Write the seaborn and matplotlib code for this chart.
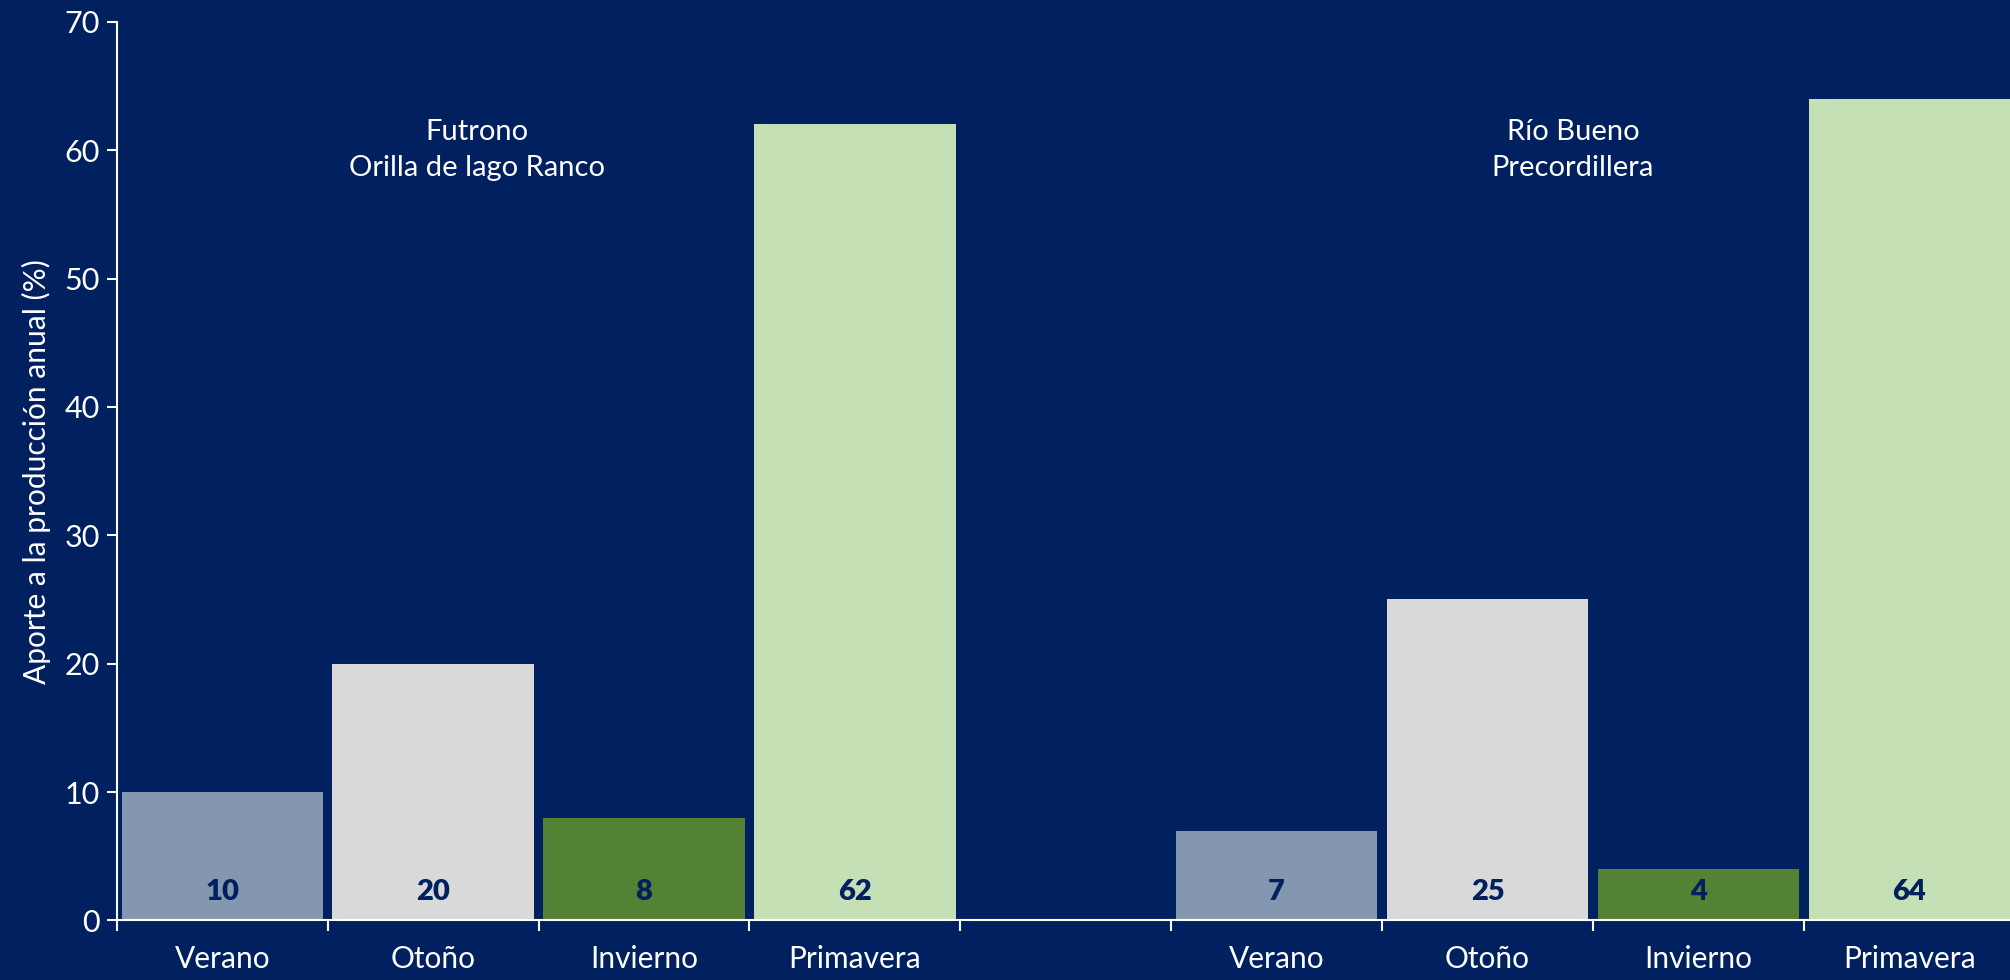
import matplotlib
matplotlib.use("Agg")
import matplotlib.pyplot as plt
import seaborn as sns
import pandas as pd

# Seasonal share of annual production (%) at two localities
seasons = ["Verano", "Otoño", "Invierno", "Primavera"]
futrono_values = [10, 20, 8, 62]
riobueno_values = [7, 25, 4, 64]
group_titles = ["Futrono\nOrilla de lago Ranco", "Río Bueno\nPrecordillera"]
season_colors = ["#8497B0", "#D9D9D9", "#548235", "#C5E0B4"]

navy = "#002060"

# slot positions: group 1 at 0-3, an empty slot at 4, group 2 at 5-8
pos1 = list(range(0, 4))
pos2 = list(range(5, 9))
df = pd.DataFrame({
    "pos": pos1 + pos2,
    "value": futrono_values + riobueno_values,
    "season": seasons + seasons,
})

sns.set_theme(style="white")
plt.rcParams["font.family"] = ["Lato", "DejaVu Sans"]

fig = plt.figure(figsize=(20.1, 9.8), dpi=100, facecolor=navy)
ax = fig.add_axes([0.0581, 0.0608, 0.9443, 0.917])
ax.set_facecolor(navy)

sns.barplot(data=df, x="pos", y="value", hue="season", hue_order=seasons,
            palette=season_colors, native_scale=True, dodge=False,
            width=0.955, linewidth=0, saturation=1, legend=False, ax=ax)

# value labels inside each bar
for p, v in zip(df["pos"], df["value"]):
    ax.text(p, 2.2, f"{v}", ha="center", va="center", color=navy,
            fontsize=21, fontweight="heavy")

# group titles
ax.text(1.21, 60.0, group_titles[0], ha="center", va="center",
        color="white", fontsize=21, linespacing=1.5)
ax.text(6.405, 60.0, group_titles[1], ha="center", va="center",
        color="white", fontsize=21, linespacing=1.5)

ax.set_xlim(-0.5, 8.5)
ax.set_ylim(0, 70)
ax.set_yticks(range(0, 71, 10))

# tick marks at slot boundaries, labels at bar centres
ax.set_xticks([b - 0.5 for b in range(10)])
ax.set_xticklabels([])
ax.set_xticks(pos1 + pos2, minor=True)
ax.set_xticklabels(seasons + seasons, minor=True)
ax.tick_params(axis="x", which="major", bottom=True, direction="out",
               length=8, width=1.5, color="white")
ax.tick_params(axis="x", which="minor", bottom=True, length=0, pad=18,
               labelsize=21.5, labelcolor="white")
ax.tick_params(axis="y", which="major", left=True, direction="out",
               length=7, width=1.5, color="white", labelsize=22,
               labelcolor="white", pad=5)

ax.set_xlabel("")
ax.set_ylabel("Aporte a la producción anual (%)", color="white",
              fontsize=21.5, labelpad=10)

for side in ["top", "right"]:
    ax.spines[side].set_visible(False)
for side in ["left", "bottom"]:
    ax.spines[side].set_color("white")
    ax.spines[side].set_linewidth(1.5)

fig.savefig("out.png", dpi=100, facecolor=navy)
